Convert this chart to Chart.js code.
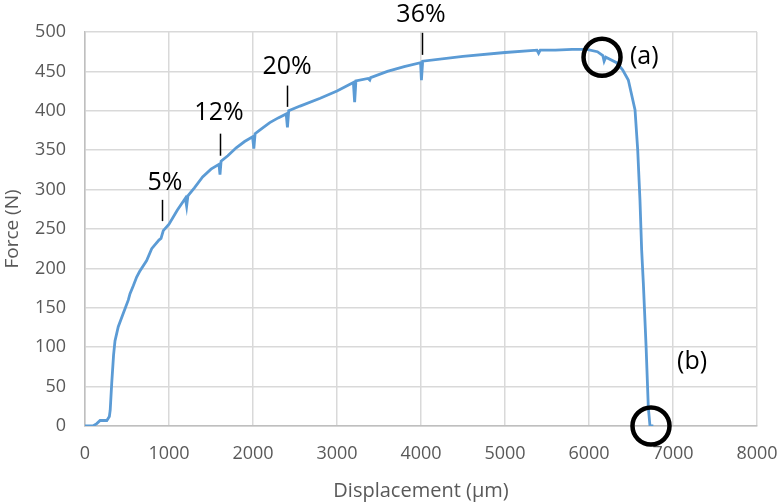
<!DOCTYPE html>
<html>
<head>
<meta charset="utf-8">
<script src="https://cdn.jsdelivr.net/npm/chart.js@4/dist/chart.umd.min.js"></script>
<style>
html,body{margin:0;padding:0;background:#fff;}
#wrap{width:781px;height:503px;position:relative;}
</style>
</head>
<body>
<div id="wrap"><canvas id="c" width="781" height="503"></canvas></div>
<script>
// Displacement (µm)
const displacement = [0,95,140,180,260,290,300,318,340,357,396,456,516,536,575,615,650,734,794,880,905,932,1000,1100,1195,1210,1225,1300,1400,1500,1595,1607,1620,1700,1800,1900,1995,2010,2025,2100,2200,2300,2395,2410,2425,2560,2800,3000,3195,3210,3225,3370,3390,3400,3600,3800,3995,4005,4020,4500,5000,5380,5400,5420,5600,5800,5972,6100,6165,6180,6200,6329,6400,6468,6548,6580,6607,6627,6647,6680,6706,6726,6766];
// Force (N)
const force = [0,0,3,7,7,12,20,54,90,108,126,143,160,168,178,189,196,210,225,236,238,248,256,274,289,279,292,302,316,326,332,319,336,343,353,361,367,352,371,377,385,391,396,379,400,406,416,425,436,411,438,441,439,442,450,456,461,439,463,469,474,477,473,477,477,478,478,475,470,463,468,461,452,439,401,350,286,223,181,100,24,0,0];

const xTicks = [0,1000,2000,3000,4000,5000,6000,7000,8000];
const yTicks = [0,50,100,150,200,250,300,350,400,450,500];

// Annotation labels (text, x, y in data units)
const strainLabels = ['5%','12%','20%','36%'];
const strainLabelX = [952,1595,2405,4000];
const strainLabelY = [308,397,456,522];
// Marker ticks under the labels
const markX = [917,1607,2405,4016];
const markY0 = [260,343,405,471];
const markY1 = [287,371,432,499];
// Circled points
const circleNames = ['(a)','(b)'];
const circleX = [6155,6738];
const circleY = [468,0];
const circleTextX = [6488,7048];
const circleTextY = [468,81];

const pts = displacement.map((d,i)=>({x:d,y:force[i]}));

const annot = {
  id:'annot',
  afterDatasetsDraw(chart){
    const {ctx, scales:{x,y}} = chart;
    ctx.save();
    ctx.fillStyle='#000';
    ctx.strokeStyle='#000';
    ctx.font='25px "Open Sans"';
    ctx.textAlign='center';
    ctx.textBaseline='middle';
    strainLabels.forEach((t,i)=>{
      ctx.fillText(t, x.getPixelForValue(strainLabelX[i]), y.getPixelForValue(strainLabelY[i]));
      ctx.lineWidth=1.5;
      ctx.beginPath();
      const px = Math.round(x.getPixelForValue(markX[i]))+0.5;
      ctx.moveTo(px, y.getPixelForValue(markY0[i]));
      ctx.lineTo(px, y.getPixelForValue(markY1[i]));
      ctx.stroke();
    });
    circleNames.forEach((t,i)=>{
      ctx.lineWidth=4.5;
      ctx.beginPath();
      ctx.arc(x.getPixelForValue(circleX[i]), y.getPixelForValue(circleY[i]), 18.5, 0, Math.PI*2);
      ctx.stroke();
      ctx.textAlign='left';
      ctx.fillText(t, x.getPixelForValue(circleTextX[i]), y.getPixelForValue(circleTextY[i]));
    });
    ctx.restore();
  }
};

new Chart(document.getElementById('c'), {
  type:'scatter',
  data:{datasets:[{
    data:pts,
    showLine:true,
    borderColor:'#5B9BD5',
    borderWidth:2.8,
    pointRadius:0,
    tension:0,
    fill:false
  }]},
  options:{
    responsive:false,
    animation:false,
    layout:{padding:{top:32,right:24,left:0,bottom:0}},
    plugins:{legend:{display:false},tooltip:{enabled:false}},
    scales:{
      x:{
        type:'linear', min:0, max:8000,
        afterBuildTicks(ax){ ax.ticks = xTicks.map(v=>({value:v})); },
        afterFit(ax){ ax.height = 77; ax.paddingLeft = 0; ax.paddingRight = 0; },
        grid:{color:'#d9d9d9', lineWidth:1.5, drawTicks:false},
        border:{color:'#bfbfbf', width:1.5},
        ticks:{color:'#595959', font:{family:'"Open Sans"', size:18}, padding:17, maxRotation:0, callback:v=>String(v)},
        title:{display:true, text:'Displacement (µm)', color:'#595959', font:{family:'"Open Sans"', size:20}, padding:{top:0,bottom:0}}
      },
      y:{
        type:'linear', min:0, max:500,
        afterBuildTicks(ax){ ax.ticks = yTicks.map(v=>({value:v})); },
        afterFit(ax){ ax.width = 85; ax.paddingTop = 0; ax.paddingBottom = 0; },
        grid:{color:'#d9d9d9', lineWidth:1.5, drawTicks:false},
        border:{color:'#bfbfbf', width:1.5},
        ticks:{color:'#595959', font:{family:'"Open Sans"', size:18}, padding:19, callback:v=>String(v)},
        title:{display:true, text:'Force (N)', color:'#595959', font:{family:'"Open Sans"', size:19}, padding:{top:1,bottom:0}}
      }
    }
  },
  plugins:[annot]
});
</script>
</body>
</html>
